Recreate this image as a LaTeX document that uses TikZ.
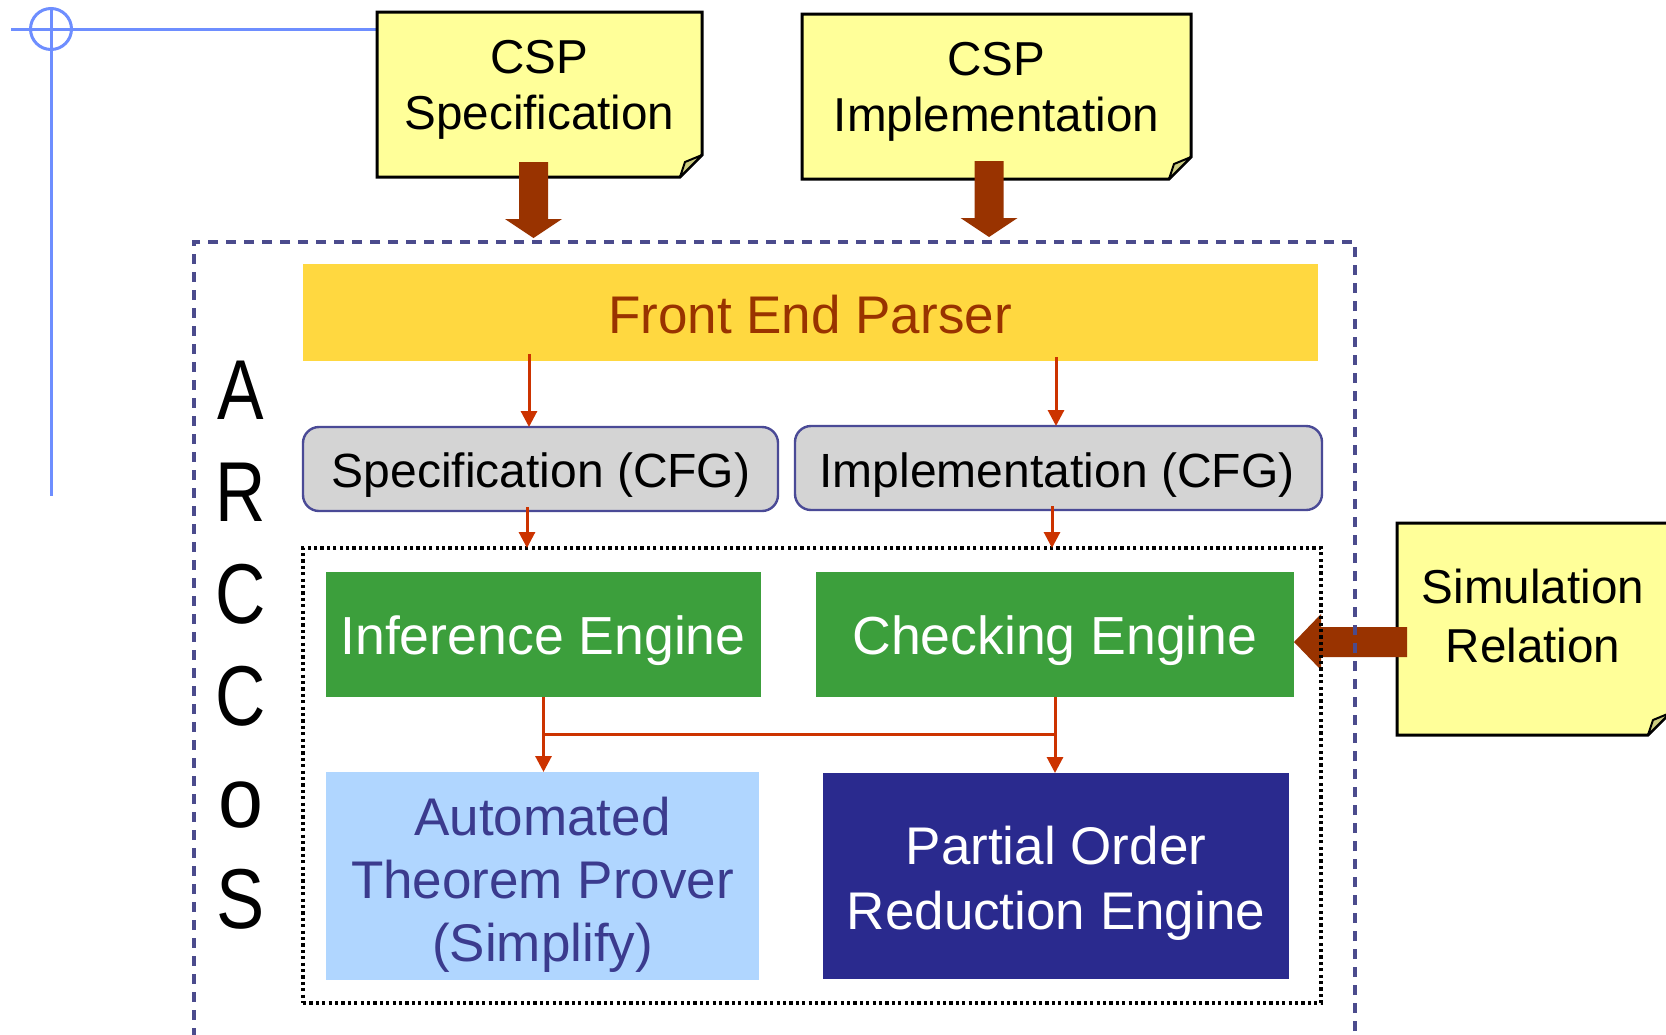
\documentclass[tikz,border=0pt]{standalone}
\usepackage{fontspec}
\setmainfont{Liberation Sans}
\usetikzlibrary{arrows.meta,calc}
\definecolor{noteY}{HTML}{FFFF99}
\definecolor{noteF}{HTML}{CCCC80}
\definecolor{bigA}{HTML}{993300}
\definecolor{redC}{HTML}{CC3300}
\definecolor{fepF}{HTML}{FFD840}
\definecolor{fepT}{HTML}{993300}
\definecolor{cfgF}{HTML}{D4D4D4}
\definecolor{cfgB}{HTML}{4A4A96}
\definecolor{engG}{HTML}{3C9F3C}
\definecolor{atpF}{HTML}{B0D6FF}
\definecolor{atpT}{HTML}{3B3B8E}
\definecolor{porF}{HTML}{2A2A8E}
\definecolor{dashC}{HTML}{4B4B8D}
\definecolor{blueL}{HTML}{6E8EFF}
\newcommand{\notedraw}[1]{%
  \filldraw[notestyle] (#1.north west) -- (#1.north east) -- ([yshift=11pt]#1.south east) -- ([xshift=-11pt]#1.south east) -- (#1.south west) -- cycle;
  \filldraw[foldstyle] ([xshift=-11pt]#1.south east) -- ([yshift=11pt]#1.south east) -- ([xshift=-8.5pt,yshift=7.5pt]#1.south east) -- cycle;}
\newcommand{\bigdown}[2]{%
  \fill[bigarrow] ($(#1)+(-14.5,0)$) -- ($(#1)+(14.5,0)$) -- ($(#2)+(14.5,-19)$) -- ($(#2)+(28.5,-19)$) -- (#2) -- ($(#2)+(-28.5,-19)$) -- ($(#2)+(-14.5,-19)$) -- cycle;}
\newcommand{\bigleft}[2]{%
  \fill[bigarrow] ($(#1)+(0,-15)$) -- ($(#1)+(0,15)$) -- ($(#2)+(27,15)$) -- ($(#2)+(27,28)$) -- (#2) -- ($(#2)+(27,-28)$) -- ($(#2)+(27,-15)$) -- cycle;}
\newcommand{\arcletter}[4]{\node[arcl] (#1) at (241,#2) {\scalebox{#4}[1]{#3}};}
\begin{document}
\begin{tikzpicture}[x=0.5pt,y=-0.5pt,
  box/.style={inner sep=0pt, outer sep=0pt},
  notestyle/.style={fill=noteY, draw=black, line width=1.5pt, line join=miter},
  foldstyle/.style={fill=noteF, draw=black, line width=1pt, line join=round},
  bigarrow/.style={fill=bigA},
  redarr/.style={draw=redC, line width=1.5pt, -{Triangle[width=8pt,length=8pt]}},
  redline/.style={draw=redC, line width=1.5pt},
  blueline/.style={draw=blueL, line width=1.5pt},
  notetext/.style={align=center, inner sep=0pt, font={\fontsize{23.8}{28}\selectfont}},
  cfgbox/.style={box, fill=cfgF, draw=cfgB, line width=1.2pt, rounded corners=8pt},
  cfgtext/.style={anchor=base, inner sep=0pt, font={\fontsize{24}{28}\selectfont}},
  engtext/.style={anchor=base, inner sep=0pt, text=white, font={\fontsize{26.8}{30}\selectfont}},
  arcl/.style={anchor=base, inner sep=0pt, font={\fontsize{42.5}{45}\selectfont}}
]
\useasboundingbox (0,0) rectangle (1666,1034);
\fill[white] (0,0) rectangle (1666,1034);

% nodes (boxes)
\node[box, minimum width=162.5pt, minimum height=82.5pt] (cspspec) at (539.5,94.5) {};
\node[box, minimum width=194.5pt, minimum height=82.5pt] (cspimpl) at (996.5,96.5) {};
\node[box, minimum width=136.5pt, minimum height=106pt] (simrel) at (1533.5,629) {};

% blue corner lines
\coordinate (bl) at (51,29);
\draw[blueline] (11,29) -- (bl -| cspspec.west);
\draw[blueline] (51,7) -- (51,496);
\draw[blueline] (bl) circle[radius=20.5];

% notes
\notedraw{cspspec}
\notedraw{cspimpl}
\notedraw{simrel}
\node[notetext] (t1) at (539.5,89.5) {CSP\\Specification};
\node[notetext] (t2) at (996.5,91.5) {CSP\\Implementation};
\node[notetext, font={\fontsize{23.8}{29.5}\selectfont}] (t3) at (1533,616) {Simulation\\Relation};

% big arrows
\coordinate (a1tip) at (533.5,238);
\coordinate (a2tip) at (989,237);
\bigdown{$(cspspec.south -| a1tip)+(0,-15)$}{a1tip}
\bigdown{$(cspimpl.south -| a2tip)+(0,-18)$}{a2tip}

% front end parser
\node[box, fill=fepF, minimum width=507.5pt, minimum height=48.5pt] (fep) at (810.5,312.5) {};
\node[anchor=base, inner sep=0pt, text=fepT, font={\fontsize{26.5}{30}\selectfont}] (tfep) at (810,333) {Front End Parser};

% CFG boxes
\node[cfgbox, minimum width=237.5pt, minimum height=42pt] (specc) at (540.5,469) {};
\node[cfgbox, minimum width=263.5pt, minimum height=42pt] (implc) at (1058.5,468) {};
\node[cfgtext] (tspecc) at (541,487) {Specification (CFG)};
\node[cfgtext] (timplc) at (1057,487) {Implementation (CFG)};

% engines
\node[box, fill=engG, minimum width=217.5pt, minimum height=62.5pt] (infer) at (543.5,634.5) {};
\node[box, fill=engG, minimum width=239pt, minimum height=62.5pt] (check) at (1055,634.5) {};
\node[box, fill=atpF, minimum width=216.5pt, minimum height=104pt] (atp) at (542.5,876) {};
\node[box, fill=porF, minimum width=233pt, minimum height=103pt] (por) at (1056,876) {};
\node[engtext] (tinfer) at (543,654) {Inference Engine};
\node[engtext] (tcheck) at (1055,654) {Checking Engine};
\node[align=center, inner sep=0pt, text=atpT, font={\fontsize{26.5}{31.5}\selectfont}] (tatp) at (542.5,885) {Automated\\Theorem Prover\\(Simplify)};
\node[align=center, inner sep=0pt, text=white, font={\fontsize{26.5}{32.5}\selectfont}] (tpor) at (1056,883) {Partial Order\\Reduction Engine};

% simulation arrow
\coordinate (a3y) at (0,642);
\bigleft{$(simrel.west |- a3y)+(10,0)$}{check.east |- a3y}

% frames
\node[box, draw=dashC, line width=1.7pt, dash pattern=on 5pt off 4pt, minimum width=580.5pt, minimum height=399pt] (arccos) at (774.5,641) {};
\node[box, draw=black, line width=1.7pt, dash pattern=on 1.6pt off 1.6pt, minimum width=509pt, minimum height=227.5pt] (core) at (812,775.5) {};

% red connectors
\coordinate (x1) at (529,0);
\coordinate (x2) at (1056,0);
\coordinate (x3) at (527,0);
\coordinate (x4) at (1052,0);
\coordinate (hy) at (0,734);
\draw[redarr] ($(fep.south -| x1)+(0,-7)$) -- (specc.north -| x1);
\draw[redarr] ($(fep.south -| x2)+(0,-4)$) -- (implc.north -| x2);
\draw[redarr] ($(specc.south -| x3)+(0,-4)$) -- (core.north -| x3);
\draw[redarr] ($(implc.south -| x4)+(0,-4)$) -- (core.north -| x4);
\draw[redarr] (infer.south) -- (infer.south |- atp.north);
\draw[redarr] (check.south) -- (check.south |- por.north);
\draw[redline] (infer.south |- hy) -- (check.south |- hy);

% ARCCoS
\arcletter{l1}{419}{A}{0.82}
\arcletter{l2}{521}{R}{0.82}
\arcletter{l3}{623}{C}{0.82}
\arcletter{l4}{725}{C}{0.82}
\arcletter{l5}{827}{o}{0.95}
\arcletter{l6}{928}{S}{0.85}
\end{tikzpicture}
\end{document}
